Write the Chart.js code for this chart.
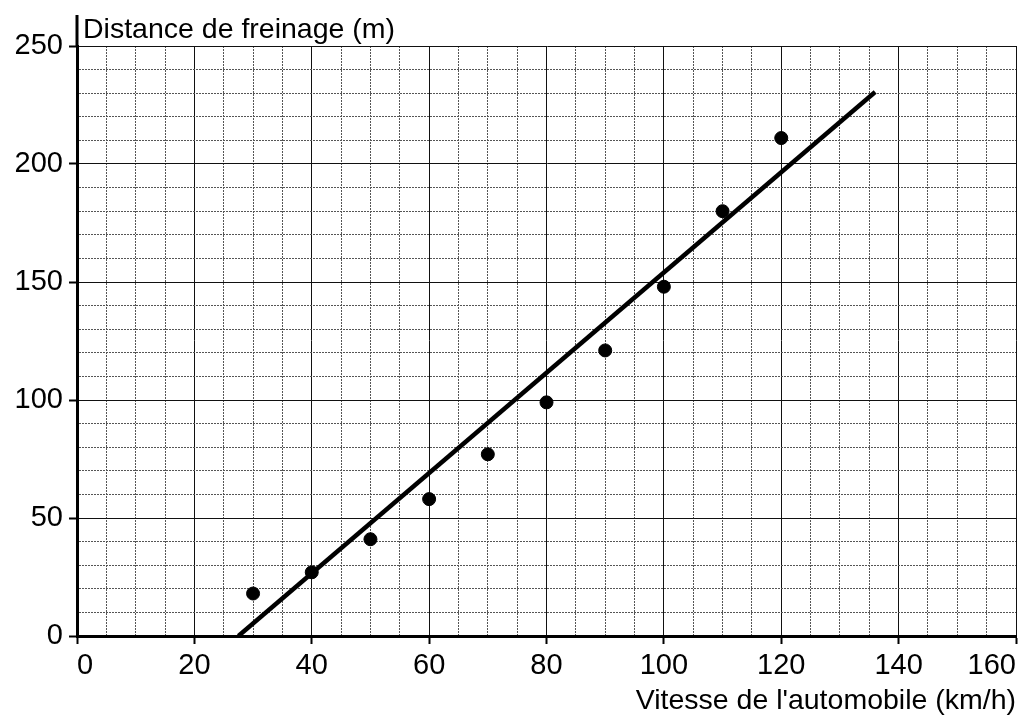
<!DOCTYPE html>
<html>
<head>
<meta charset="utf-8">
<script src="https://cdn.jsdelivr.net/npm/chart.js@4.4.1/dist/chart.umd.min.js"></script>
<style>
  html, body { margin: 0; padding: 0; background: #fff; }
  #wrap { width: 1024px; height: 715px; position: relative; }
</style>
</head>
<body>
<div id="wrap"><canvas id="brakeChart"></canvas></div>
<script>
// measured points (speed km/h -> braking distance m)
const speeds = [30, 40, 50, 60, 70, 80, 90, 100, 110, 120];
const distances = [18, 27, 41, 58, 77, 99, 121, 148, 180, 211];

// hand-drawn fitted line, two end points
const fitSpeeds = [27.5, 136];
const fitDistances = [0, 230.5];

// axis ranges and label steps
const xRange = [0, 160];
const yRange = [0, 250];
const xMinorStep = 5, xLabelStep = 20;
const yMinorStep = 10, yLabelStep = 50;

const xTitle = "Vitesse de l'automobile (km/h)";
const yTitle = 'Distance de freinage (m)';

const FONT = '"Liberation Sans", Arial, Helvetica, sans-serif';

const isMajor = (v, step) => Math.abs(v % step) < 1e-6;

// y title sits above the plot, next to the extended y axis
const yTitlePlugin = {
    id: 'yTitle',
    afterDraw(chart) {
        const { ctx, chartArea } = chart;
        ctx.save();
        ctx.strokeStyle = '#000';
        ctx.lineWidth = 3;
        ctx.beginPath();
        ctx.moveTo(chartArea.left, chartArea.top);
        ctx.lineTo(chartArea.left, chartArea.top - 31);
        ctx.stroke();
        ctx.fillStyle = '#000';
        ctx.font = '28.5px ' + FONT;
        ctx.textBaseline = 'alphabetic';
        ctx.textAlign = 'left';
        ctx.fillText(yTitle, chartArea.left + 6, chartArea.top - 8);
        ctx.restore();
    }
};

const ctx = document.getElementById('brakeChart').getContext('2d');

new Chart(ctx, {
    type: 'scatter',
    data: {
        datasets: [
            {
                label: 'Mesures',
                data: speeds.map((s, i) => ({ x: s, y: distances[i] })),
                backgroundColor: '#000',
                borderColor: '#000',
                pointRadius: 6.5,
                pointHoverRadius: 6.5
            },
            {
                label: 'Droite',
                type: 'line',
                data: fitSpeeds.map((s, i) => ({ x: s, y: fitDistances[i] })),
                borderColor: '#000',
                borderWidth: 4.5,
                pointRadius: 0,
                fill: false
            }
        ]
    },
    options: {
        responsive: true,
        maintainAspectRatio: false,
        animation: false,
        events: [],
        layout: { padding: { top: 46, right: 8, left: 0, bottom: 0 } },
        plugins: {
            legend: { display: false },
            tooltip: { enabled: false }
        },
        scales: {
            x: {
                type: 'linear',
                min: xRange[0],
                max: xRange[1],
                afterFit: s => { s.height = 79; },
                ticks: {
                    stepSize: xMinorStep,
                    autoSkip: false,
                    maxRotation: 0,
                    align: 'inner',
                    padding: 5,
                    color: '#000',
                    font: { family: FONT, size: 29 },
                    callback: v => isMajor(v, xLabelStep) ? String(v) : ''
                },
                grid: {
                    color: c => isMajor(c.tick.value, xLabelStep) ? '#111' : '#555',
                    lineWidth: 1,
                    tickLength: 8,
                    tickWidth: 2,
                    tickColor: c => isMajor(c.tick.value, xLabelStep) ? '#000' : 'rgba(0,0,0,0)'
                },
                border: {
                    color: '#000',
                    width: 3,
                    dash: c => isMajor(c.tick.value, xLabelStep) ? [] : [2, 1]
                },
                title: {
                    display: true,
                    text: xTitle,
                    align: 'end',
                    color: '#000',
                    padding: 0,
                    font: { family: FONT, size: 28.5, lineHeight: 1 }
                }
            },
            y: {
                type: 'linear',
                min: yRange[0],
                max: yRange[1],
                afterFit: s => { s.width = 77; },
                ticks: {
                    stepSize: yMinorStep,
                    autoSkip: false,
                    padding: 6,
                    color: '#000',
                    font: { family: FONT, size: 29 },
                    callback: v => isMajor(v, yLabelStep) ? String(v) : ''
                },
                grid: {
                    color: c => isMajor(c.tick.value, yLabelStep) ? '#111' : '#555',
                    lineWidth: 1,
                    tickLength: 8,
                    tickWidth: 2,
                    tickColor: c => isMajor(c.tick.value, yLabelStep) ? '#000' : 'rgba(0,0,0,0)'
                },
                border: {
                    color: '#000',
                    width: 3,
                    dash: c => isMajor(c.tick.value, yLabelStep) ? [] : [2, 1]
                }
            }
        }
    },
    plugins: [yTitlePlugin]
});
</script>
</body>
</html>
